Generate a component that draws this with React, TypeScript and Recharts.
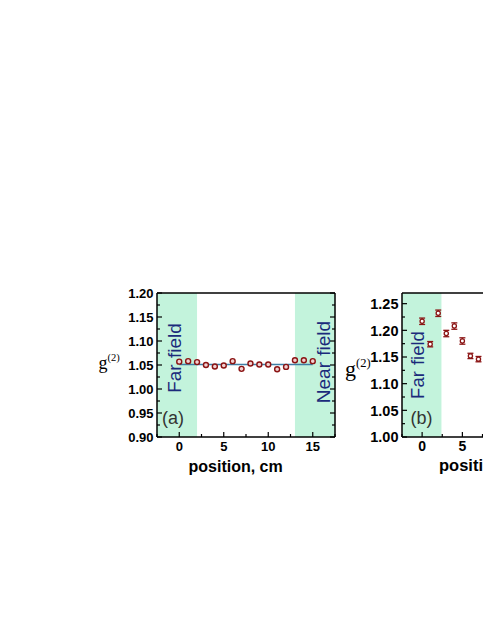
import React from 'react';
import {
  ComposedChart,
  Scatter,
  Line,
  XAxis,
  YAxis,
  ReferenceArea,
  ErrorBar,
} from 'recharts';

// ---------- data ----------
const positionsA = [0, 1, 2, 3, 4, 5, 6, 7, 8, 9, 10, 11, 12, 13, 14, 15];
const g2A = [1.057, 1.058, 1.056, 1.05, 1.047, 1.049, 1.058, 1.042, 1.053, 1.051, 1.051, 1.041, 1.046, 1.06, 1.06, 1.058];
const fitA = [1.051, 1.051];
const fitXA = [0, 15];

const positionsB = [0, 1, 2, 3, 4, 5, 6, 7, 8, 9];
const g2B = [1.217, 1.174, 1.232, 1.194, 1.208, 1.18, 1.152, 1.146, 1.156, 1.1];
const errB = [0.006, 0.005, 0.006, 0.006, 0.006, 0.006, 0.005, 0.005, 0.006, 0.006];

const xMajorTicks = [0, 5, 10, 15];
const xAllTicks = [-2.5, 0, 2.5, 5, 7.5, 10, 12.5, 15, 17.5];
const yMajorA = [0.9, 0.95, 1.0, 1.05, 1.1, 1.15, 1.2];
const yMinorA = [0.925, 0.975, 1.025, 1.075, 1.125, 1.175];
const yMajorB = [1.0, 1.05, 1.1, 1.15, 1.2, 1.25];
const yMinorB = [1.025, 1.075, 1.125, 1.175, 1.225];

const farFieldA = [-2.5, 2];
const nearFieldA = [13, 17.5];
const farFieldB = [-2.5, 2.4];

const dataA = positionsA.map((x, i) => ({ x, y: g2A[i] }));
const fitDataA = fitXA.map((x, i) => ({ x, y: fitA[i] }));
const dataB = positionsB.map((x, i) => ({ x, y: g2B[i], err: errB[i] }));

// ---------- styles ----------
const SANS = '"Liberation Sans", Arial, sans-serif';
const SERIF = '"Liberation Serif", "Times New Roman", serif';
const MINT = '#c3f3dc';
const NAVY = '#1b2a7b';
const DOT = '#8b1414';

const isMajor = (v: number, majors: number[]) => majors.some((m) => Math.abs(m - v) < 1e-6);

const makeBottomTick = (fs: number) => (props: any) => {
  const { x, y, payload } = props;
  const v = payload.value;
  const major = isMajor(v, xMajorTicks);
  return (
    <g>
      <line x1={x} x2={x} y1={y} y2={y - (major ? 5 : 3)} stroke="#000" strokeWidth={1.2} />
      {major && (
        <text x={x} y={y + 9} dy="0.36em" textAnchor="middle" fontFamily={SANS} fontWeight="bold" fontSize={fs} fill="#000">
          {v}
        </text>
      )}
    </g>
  );
};

const TopTick = (props: any) => {
  const { x, y, payload } = props;
  const major = isMajor(payload.value, xMajorTicks);
  return <line x1={x} x2={x} y1={y} y2={y + (major ? 5 : 3)} stroke="#000" strokeWidth={1.2} />;
};

const makeLeftTick = (majors: number[], fs: number) => (props: any) => {
  const { x, y, payload } = props;
  const v = payload.value;
  const major = isMajor(v, majors);
  return (
    <g>
      <line x1={x} x2={x + (major ? 5 : 3)} y1={y} y2={y} stroke="#000" strokeWidth={1.2} />
      {major && (
        <text x={x - 3.5} y={y} dy="0.36em" textAnchor="end" fontFamily={SANS} fontWeight="bold" fontSize={fs} fill="#000">
          {v.toFixed(2)}
        </text>
      )}
    </g>
  );
};

const makeRightTick = (majors: number[]) => (props: any) => {
  const { x, y, payload } = props;
  const major = isMajor(payload.value, majors);
  return <line x1={x} x2={x - (major ? 5 : 3)} y1={y} y2={y} stroke="#000" strokeWidth={1.2} />;
};

const CircleA = (props: any) => {
  const { cx, cy } = props;
  return <circle cx={cx} cy={cy} r={2.5} fill="#f2d2d2" stroke={DOT} strokeWidth={1.4} />;
};

const CircleB = (props: any) => {
  const { cx, cy } = props;
  return <circle cx={cx} cy={cy} r={2.1} fill="#fff" stroke={DOT} strokeWidth={1.3} />;
};

const axisLine = { stroke: '#000', strokeWidth: 1.5 };

const abs = (left: number, top: number): React.CSSProperties => ({
  position: 'absolute',
  left: left - 8,
  top: top - 8,
  whiteSpace: 'nowrap',
  lineHeight: 1,
});

const Rotated = ({ cx, cy, fs, color, children }: any) => (
  <div
    style={{
      position: 'absolute',
      left: cx - 8,
      top: cy - 8,
      transform: 'translate(-50%, -50%) rotate(-90deg)',
      fontFamily: SANS,
      fontSize: fs,
      color,
      whiteSpace: 'pre',
      wordSpacing: 1,
      lineHeight: 1,
    }}
  >
    {children}
  </div>
);

// axis sizes: bottom 20, top 1, left 40, right 1
export default function App() {
  return (
    <div style={{ position: 'relative', width: 483, height: 619, overflow: 'hidden', background: '#fff' }}>
      {/* ---------- panel (a) ---------- */}
      <div style={{ position: 'absolute', left: 92, top: 272 }}>
        <ComposedChart width={250} height={210} margin={{ top: 12, left: 17, right: 14, bottom: 33 }}>
          <XAxis
            xAxisId={0}
            dataKey="x"
            type="number"
            domain={[-2.5, 17.5]}
            ticks={xAllTicks}
            interval={0}
            height={20}
            tickSize={0}
            tickMargin={0}
            axisLine={axisLine}
            tickLine={false}
            tick={makeBottomTick(13)}
            allowDataOverflow
          />
          <XAxis
            xAxisId="t"
            orientation="top"
            type="number"
            domain={[-2.5, 17.5]}
            ticks={xAllTicks}
            interval={0}
            height={1}
            tickSize={0}
            tickMargin={0}
            axisLine={axisLine}
            tickLine={false}
            tick={TopTick}
            allowDataOverflow
          />
          <YAxis
            yAxisId={0}
            type="number"
            domain={[0.9, 1.2]}
            ticks={[...yMajorA, ...yMinorA].sort((a, b) => a - b)}
            interval={0}
            width={40}
            tickSize={0}
            tickMargin={0}
            axisLine={axisLine}
            tickLine={false}
            tick={makeLeftTick(yMajorA, 13)}
            allowDataOverflow
          />
          <YAxis
            yAxisId="r"
            orientation="right"
            type="number"
            domain={[0.9, 1.2]}
            ticks={[...yMajorA, ...yMinorA].sort((a, b) => a - b)}
            interval={0}
            width={1}
            tickSize={0}
            tickMargin={0}
            axisLine={axisLine}
            tickLine={false}
            tick={makeRightTick(yMajorA)}
            allowDataOverflow
          />
          <ReferenceArea x1={farFieldA[0]} x2={farFieldA[1]} xAxisId={0} yAxisId={0} fill={MINT} fillOpacity={1} stroke="none" ifOverflow="hidden" />
          <ReferenceArea x1={nearFieldA[0]} x2={nearFieldA[1]} xAxisId={0} yAxisId={0} fill={MINT} fillOpacity={1} stroke="none" ifOverflow="hidden" />
          <Line
            data={fitDataA}
            dataKey="y"
            xAxisId={0}
            yAxisId={0}
            stroke="#3f7fa6"
            strokeWidth={1.6}
            dot={false}
            activeDot={false}
            isAnimationActive={false}
          />
          <Scatter data={dataA} dataKey="y" xAxisId={0} yAxisId={0} shape={CircleA} isAnimationActive={false} />
        </ComposedChart>
      </div>

      {/* ---------- panel (b) ---------- */}
      <div style={{ position: 'absolute', left: 337, top: 272 }}>
        <ComposedChart width={250} height={210} margin={{ top: 12, left: 17, right: 32, bottom: 33 }}>
          <XAxis
            xAxisId={0}
            dataKey="x"
            type="number"
            domain={[-2.5, 17.5]}
            ticks={xAllTicks}
            interval={0}
            height={20}
            tickSize={0}
            tickMargin={0}
            axisLine={axisLine}
            tickLine={false}
            tick={makeBottomTick(14)}
            allowDataOverflow
          />
          <XAxis
            xAxisId="t"
            orientation="top"
            type="number"
            domain={[-2.5, 17.5]}
            ticks={xAllTicks}
            interval={0}
            height={1}
            tickSize={0}
            tickMargin={0}
            axisLine={axisLine}
            tickLine={false}
            tick={TopTick}
            allowDataOverflow
          />
          <YAxis
            yAxisId={0}
            type="number"
            domain={[1.0, 1.27]}
            ticks={[...yMajorB, ...yMinorB].sort((a, b) => a - b)}
            interval={0}
            width={40}
            tickSize={0}
            tickMargin={0}
            axisLine={axisLine}
            tickLine={false}
            tick={makeLeftTick(yMajorB, 14.5)}
            allowDataOverflow
          />
          <ReferenceArea x1={farFieldB[0]} x2={farFieldB[1]} xAxisId={0} yAxisId={0} fill={MINT} fillOpacity={1} stroke="none" ifOverflow="hidden" />
          <Scatter data={dataB} dataKey="y" xAxisId={0} yAxisId={0} shape={CircleB} isAnimationActive={false}>
            <ErrorBar dataKey="err" direction="y" width={3} stroke={DOT} strokeWidth={1.3} />
          </Scatter>
        </ComposedChart>
      </div>

      {/* ---------- texts (a) ---------- */}
      <Rotated cx={173.5} cy={358} fs={19} color={NAVY}>Far field</Rotated>
      <Rotated cx={323} cy={362} fs={19} color={NAVY}>Near field</Rotated>
      <div style={{ ...abs(162, 409), fontFamily: SANS, fontSize: 18, color: '#333' }}>(a)</div>
      <div style={{ ...abs(98.5, 354), fontFamily: SERIF, color: '#000' }}>
        <span style={{ fontSize: 18 }}>g</span>
        <span style={{ fontSize: 10.5, position: 'relative', top: -8 }}>(2)</span>
      </div>
      <div style={{ ...abs(188.5, 458.5), fontFamily: SANS, fontWeight: 'bold', fontSize: 16, color: '#000' }}>
        position, cm
      </div>

      {/* ---------- texts (b) ---------- */}
      <Rotated cx={417.5} cy={365} fs={18.5} color={NAVY}>Far field</Rotated>
      <div style={{ ...abs(410.5, 409), fontFamily: SANS, fontSize: 18, color: '#333' }}>(b)</div>
      <div style={{ ...abs(345, 357.5), fontFamily: SERIF, color: '#000' }}>
        <span style={{ fontSize: 22 }}>g</span>
        <span style={{ fontSize: 12.5, position: 'relative', top: -9 }}>(2)</span>
      </div>
      <div style={{ ...abs(439, 457), fontFamily: SANS, fontWeight: 'bold', fontSize: 16.5, color: '#000' }}>
        position, cm
      </div>
    </div>
  );
}
